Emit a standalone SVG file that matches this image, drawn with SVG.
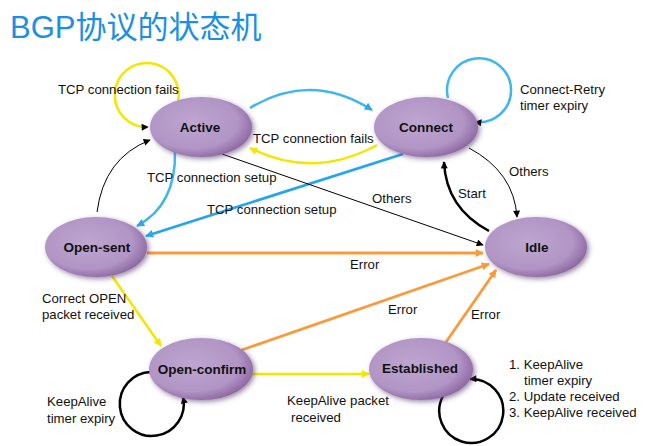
<svg xmlns="http://www.w3.org/2000/svg" width="656" height="446" viewBox="0 0 656 446">
<defs>
<radialGradient id="nodeFill" cx="0.42" cy="0.42" r="0.65">
<stop offset="0" stop-color="#bea6d0"/>
<stop offset="0.68" stop-color="#b195c5"/>
<stop offset="0.9" stop-color="#9470a9"/>
<stop offset="1" stop-color="#7a5690"/>
</radialGradient>
<filter id="shadow" x="-20%" y="-30%" width="140%" height="160%">
<feGaussianBlur in="SourceAlpha" stdDeviation="2.5"/>
<feOffset dx="2" dy="2" result="b"/>
<feFlood flood-color="#5a3d6e" flood-opacity="0.6"/>
<feComposite in2="b" operator="in"/>
<feMerge><feMergeNode/><feMergeNode in="SourceGraphic"/></feMerge>
</filter>
<marker id="aBlack" viewBox="0 0 10 10" refX="9" refY="5" markerWidth="8" markerHeight="7" markerUnits="userSpaceOnUse" orient="auto"><path d="M0,0 L10,5 L0,10 z" fill="#000"/></marker>
<marker id="aBlue" viewBox="0 0 10 10" refX="9" refY="5" markerWidth="9" markerHeight="8" markerUnits="userSpaceOnUse" orient="auto"><path d="M0,0 L10,5 L0,10 z" fill="#2aa9ec"/></marker>
<marker id="aYellow" viewBox="0 0 10 10" refX="9" refY="5" markerWidth="9" markerHeight="8" markerUnits="userSpaceOnUse" orient="auto"><path d="M0,0 L10,5 L0,10 z" fill="#f5e600"/></marker>
<marker id="aOrange" viewBox="0 0 10 10" refX="9" refY="5" markerWidth="9" markerHeight="8" markerUnits="userSpaceOnUse" orient="auto"><path d="M0,0 L10,5 L0,10 z" fill="#fb9a3a"/></marker>
</defs>
<style>
.node ellipse{fill:url(#nodeFill);filter:url(#shadow);}
.node text{font-family:"Liberation Sans",Arial,sans-serif;font-weight:bold;font-size:13.5px;fill:#111;text-anchor:middle;}
.lbl{font-family:"Liberation Sans",Arial,sans-serif;font-size:13.2px;fill:#111;}
.title{font-family:"Liberation Sans","Noto Sans CJK SC",sans-serif;font-size:31px;fill:#1a8fe3;}
#connectors path{fill:none;}
.blue{stroke:#3fb6f0;stroke-width:2.5;}
.blueT{stroke:#23a6ec;stroke-width:2.8;}
.yellow{stroke:#f5e600;stroke-width:2.5;}
.orange{stroke:#fb9a3a;stroke-width:2.8;}
.thin{stroke:#000;stroke-width:1;}
.thick{stroke:#000;stroke-width:2.5;}
</style>
<rect width="656" height="446" fill="#fff"/>
<text class="title" x="10" y="38">BGP协议的状态机</text>

<g id="connectors">
<path class="yellow" d="M178,102 A32,32 0 1 0 148,127" marker-end="url(#aBlack)"/>
<path class="blue" d="M448,98 A32,32 0 1 1 475,122" marker-end="url(#aBlack)"/>
<path class="blue" d="M250,108 Q311,71 372,110" marker-end="url(#aBlue)"/>
<path class="yellow" d="M377,145 Q313,180 250,148" marker-end="url(#aYellow)"/>
<path class="blue" d="M175,152 Q176,205 137,226" marker-end="url(#aBlue)"/>
<path class="blueT" d="M403,154 L146,236" marker-end="url(#aBlue)"/>
<path class="thin" d="M97,212 Q104,158 150,140" marker-end="url(#aBlack)"/>
<path class="thin" d="M222,154 L483,245" marker-end="url(#aBlack)"/>
<path class="thin" d="M469,148 Q514,172 517,217" marker-end="url(#aBlack)"/>
<path class="thick" d="M489,231 Q446,208 444,162" marker-end="url(#aBlack)"/>
<path class="orange" d="M147,253 L483,253" marker-end="url(#aOrange)"/>
<path class="orange" d="M239,351 L489,264" marker-end="url(#aOrange)"/>
<path class="orange" d="M446,342 L496,270" marker-end="url(#aOrange)"/>
<path class="yellow" d="M112,276 L161,346" marker-end="url(#aYellow)"/>
<path class="yellow" d="M252,374 L369,374" marker-end="url(#aYellow)"/>
<path class="thick" d="M151,372 A32,32 0 1 0 183,397" marker-end="url(#aBlack)"/>
<path class="thick" d="M443,396 A32,32 0 1 0 470,379" marker-end="url(#aBlack)"/>
</g>

<g id="node-active" class="node"><ellipse cx="201" cy="127" rx="51" ry="30"/><text x="200" y="132">Active</text></g>
<g id="node-connect" class="node"><ellipse cx="426" cy="127" rx="52" ry="30"/><text x="426" y="132">Connect</text></g>
<g id="node-opensent" class="node"><ellipse cx="96" cy="247" rx="51" ry="30"/><text x="97" y="252">Open-sent</text></g>
<g id="node-idle" class="node"><ellipse cx="536" cy="247" rx="51" ry="30"/><text x="537" y="252">Idle</text></g>
<g id="node-openconfirm" class="node"><ellipse cx="201" cy="369" rx="52" ry="31"/><text x="202" y="374">Open-confirm</text></g>
<g id="node-established" class="node"><ellipse cx="421" cy="369" rx="52" ry="31"/><text x="420" y="373">Established</text></g>

<g id="labels">
<text class="lbl" x="58" y="94">TCP connection fails</text>
<text class="lbl" x="253" y="143">TCP connection fails</text>
<text class="lbl" x="147" y="182">TCP connection setup</text>
<text class="lbl" x="207" y="214">TCP connection setup</text>
<text class="lbl" x="372" y="203">Others</text>
<text class="lbl" x="509" y="176">Others</text>
<text class="lbl" x="458" y="198">Start</text>
<text class="lbl" x="520" y="94">Connect-Retry</text>
<text class="lbl" x="520" y="110">timer expiry</text>
<text class="lbl" x="350" y="269">Error</text>
<text class="lbl" x="388" y="314">Error</text>
<text class="lbl" x="471" y="319">Error</text>
<text class="lbl" x="42" y="303">Correct OPEN</text>
<text class="lbl" x="42" y="319">packet received</text>
<text class="lbl" x="47" y="406">KeepAlive</text>
<text class="lbl" x="47" y="423">timer expiry</text>
<text class="lbl" x="287" y="405">KeepAlive packet</text>
<text class="lbl" x="291" y="422">received</text>
<text class="lbl" x="509" y="369">1. KeepAlive</text>
<text class="lbl" x="524" y="385">timer expiry</text>
<text class="lbl" x="509" y="401">2. Update received</text>
<text class="lbl" x="509" y="417">3. KeepAlive received</text>
</g>
</svg>
